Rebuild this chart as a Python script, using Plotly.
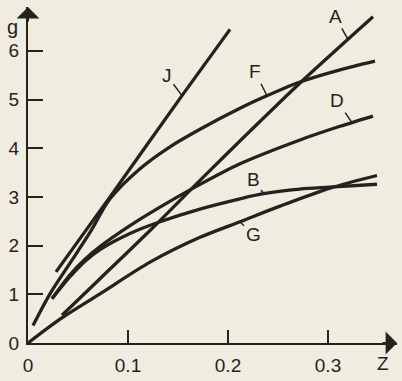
import numpy as np
import plotly.graph_objects as go

# Curve data: g as a function of Z for each case
z_J = [0.028, 0.082, 0.154, 0.202]
g_J = [1.46, 3.00, 5.08, 6.44]

z_F = [0.005, 0.022, 0.042, 0.062, 0.082, 0.112, 0.142, 0.172, 0.212, 0.237, 0.272, 0.312, 0.347]
g_F = [0.36, 1.01, 1.64, 2.27, 2.96, 3.58, 4.03, 4.39, 4.82, 5.06, 5.36, 5.61, 5.79]

z_A = [0.034, 0.072, 0.122, 0.172, 0.222, 0.272, 0.345]
g_A = [0.57, 1.32, 2.31, 3.34, 4.35, 5.34, 6.70]

z_D = [0.024, 0.042, 0.057, 0.072, 0.102, 0.132, 0.167, 0.212, 0.272, 0.312, 0.345]
g_D = [0.91, 1.40, 1.72, 1.98, 2.41, 2.79, 3.20, 3.68, 4.17, 4.45, 4.66]

z_B = [0.024, 0.042, 0.057, 0.072, 0.102, 0.132, 0.172, 0.212, 0.234, 0.272, 0.302, 0.349]
g_B = [0.91, 1.36, 1.68, 1.92, 2.25, 2.49, 2.75, 2.96, 3.06, 3.16, 3.20, 3.26]

z_G = [0.0, 0.032, 0.072, 0.122, 0.172, 0.212, 0.252, 0.302, 0.349]
g_G = [0.0, 0.49, 1.01, 1.66, 2.17, 2.49, 2.81, 3.18, 3.44]

x_ticks = [0, 0.1, 0.2, 0.3]
x_tick_text = ["0", "0.1", "0.2", "0.3"]
y_ticks = [0, 1, 2, 3, 4, 5, 6]
y_tick_text = ["0", "1", "2", "3", "4", "5", "6"]

# label: (curve z, curve g, z where the leader touches, text offset px)
curves = {
    "J": (z_J, g_J, 0.154, (-15, -20)),
    "A": (z_A, g_A, 0.320, (-13, -23)),
    "F": (z_F, g_F, 0.239, (-12, -24)),
    "D": (z_D, g_D, 0.324, (-15, -22)),
    "B": (z_B, g_B, 0.236, (-11, -14)),
    "G": (z_G, g_G, 0.212, (13, 13)),
}

INK = "#24221f"
PAPER = "#f0ecdf"
FONT = "Liberation Sans"
FS = 19

fig = go.Figure()
for name, (zs, gs, zl, off) in curves.items():
    fig.add_trace(go.Scatter(
        x=zs, y=gs, mode="lines", name=name,
        line=dict(color=INK, width=3.3, shape="spline", smoothing=0.8),
        cliponaxis=False, showlegend=False, hoverinfo="skip",
    ))
    fig.add_annotation(
        x=zl, y=float(np.interp(zl, zs, gs)), xref="x", yref="y",
        text=name, showarrow=True, arrowhead=0, arrowwidth=1.5, arrowcolor=INK,
        ax=off[0], ay=off[1], standoff=0,
        font=dict(family=FONT, size=FS, color=INK),
    )

Z_MAX = 0.369
G_MAX = 6.90

# axis arrow heads
fig.add_annotation(x=Z_MAX, y=0, xref="x", yref="y", text="", showarrow=True,
                   ax=-16, ay=0, arrowhead=1, arrowsize=1.9, arrowwidth=2, arrowcolor=INK)
fig.add_annotation(x=0, y=G_MAX, xref="x", yref="y", text="", showarrow=True,
                   ax=0, ay=16, arrowhead=1, arrowsize=1.9, arrowwidth=2, arrowcolor=INK)

# axis titles (paper coordinates so they sit outside the plotting area)
fig.add_annotation(x=0.962, y=-0.062, xref="paper", yref="paper", text="Z",
                   xanchor="center", yanchor="middle",
                   showarrow=False, font=dict(family=FONT, size=FS, color=INK))
fig.add_annotation(x=-0.041, y=0.94, xref="paper", yref="paper", text="g",
                   xanchor="center", yanchor="middle",
                   showarrow=False, font=dict(family=FONT, size=FS + 1, color=INK))

fig.update_xaxes(
    range=[0, Z_MAX], showgrid=False, zeroline=False,
    showline=True, linecolor=INK, linewidth=2,
    ticks="inside", ticklen=13, tickwidth=2, tickcolor=INK,
    tickvals=x_ticks, ticktext=x_tick_text, ticklabelstandoff=4,
    tickfont=dict(family=FONT, size=FS, color=INK),
)
fig.update_yaxes(
    range=[0, G_MAX], showgrid=False, zeroline=False,
    showline=True, linecolor=INK, linewidth=2,
    ticks="inside", ticklen=15, tickwidth=2, tickcolor=INK,
    tickvals=y_ticks, ticktext=y_tick_text, ticklabelstandoff=3,
    tickfont=dict(family=FONT, size=FS, color=INK),
)

fig.update_layout(
    width=402, height=381,
    margin=dict(l=28, r=5, t=7, b=33),
    paper_bgcolor=PAPER, plot_bgcolor=PAPER,
)

fig.write_html("out.html")
